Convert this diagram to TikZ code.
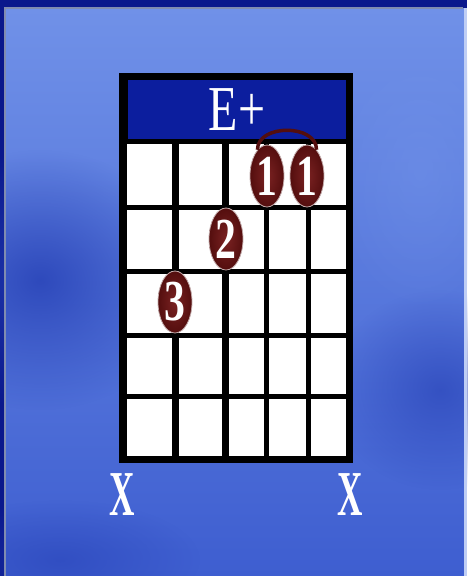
\documentclass[tikz,border=0pt]{standalone}
\usepackage{fontspec}
\setmainfont{Liberation Serif}
\usetikzlibrary{shapes.geometric, fadings}
\definecolor{PanelTop}{RGB}{112,145,232}
\definecolor{PanelMid}{RGB}{72,104,214}
\definecolor{PanelLow}{RGB}{62,94,208}
\definecolor{PanelDark}{RGB}{36,62,180}
\definecolor{FrameNavy}{RGB}{10,24,140}
\definecolor{HeaderBlue}{RGB}{12,30,158}
\definecolor{DotRed}{RGB}{84,14,14}
\definecolor{DotLight}{RGB}{122,34,34}
\definecolor{EdgeGray}{RGB}{128,140,176}
\newcommand{\squeeze}[2]{\scalebox{#1}[1]{#2}}
\tikzfading[name=softblob, inner color=transparent!0, outer color=transparent!100]

\begin{document}
\begin{tikzpicture}[x=1pt, y=-1pt,
	finger/.style={ellipse, draw=white!65!DotRed, line width=0.8pt,
		inner color=DotLight, outer color=DotRed,
		text=white, minimum width=34pt, minimum height=62pt, inner sep=0pt,
		font=\fontsize{58}{58}\selectfont\bfseries},
	mute/.style={text=white, inner sep=0pt, font=\fontsize{64}{64}\selectfont\bfseries},
	header/.style={fill=HeaderBlue, text=white, minimum width=218pt, minimum height=59pt,
		inner sep=0pt, font=\fontsize{64}{64}\selectfont},
	fret/.style={line width=5pt},
	barre/.style={DotRed, line width=3.5pt},
	blob/.style={path fading=softblob}]

	\useasboundingbox (0,0) rectangle (467,576);
	\fill[FrameNavy] (0,0) rectangle (467,576);
	\shade[top color=PanelTop, middle color=PanelMid, bottom color=PanelLow] (5,8) rectangle (464,576);
	\fill[PanelDark, blob, opacity=0.8] (40,280) ellipse (150 and 130);
	\fill[PanelDark, blob, opacity=0.6] (440,390) ellipse (110 and 100);
	\fill[PanelDark, blob, opacity=0.5] (60,560) ellipse (140 and 60);
	\fill[PanelTop, blob, opacity=0.5] (420,170) ellipse (90 and 140);
	\draw[EdgeGray, line width=2pt] (5,576) -- (5,8) -- (463,8);
	\fill[white!55!PanelTop] (464,8) rectangle (467,576);

	\fill[black] (119,73) rectangle (353,463);
	\node[header] (title) at (237,109.5) {\squeeze{0.75}{E+}};
	\fill[white] (127,144) rectangle (346,456);
	\foreach \sx/\w in {175/7pt, 225/7pt, 266/5pt, 308/5pt}
		\draw[line width=\w] (\sx,144) -- (\sx,456);
	\foreach \fy in {207,271,335,396}
		\draw[fret] (127,\fy) -- (346,\fy);

	\node[finger] (d1a) at (267,176) {\squeeze{0.72}{1}};
	\node[finger] (d1b) at (307,176) {\squeeze{0.72}{1}};
	\node[finger] (d2) at (226,239) {\squeeze{0.72}{2}};
	\node[finger] (d3) at (175,302) {\squeeze{0.72}{3}};
	\draw[barre] (d1a.110) .. controls +(0,-26) and +(0,-26) .. (d1b.70);

	\node[mute] (mute6) at (122,495) {\squeeze{0.55}{X}};
	\node[mute] (mute1) at (350,495) {\squeeze{0.55}{X}};
\end{tikzpicture}
\end{document}
